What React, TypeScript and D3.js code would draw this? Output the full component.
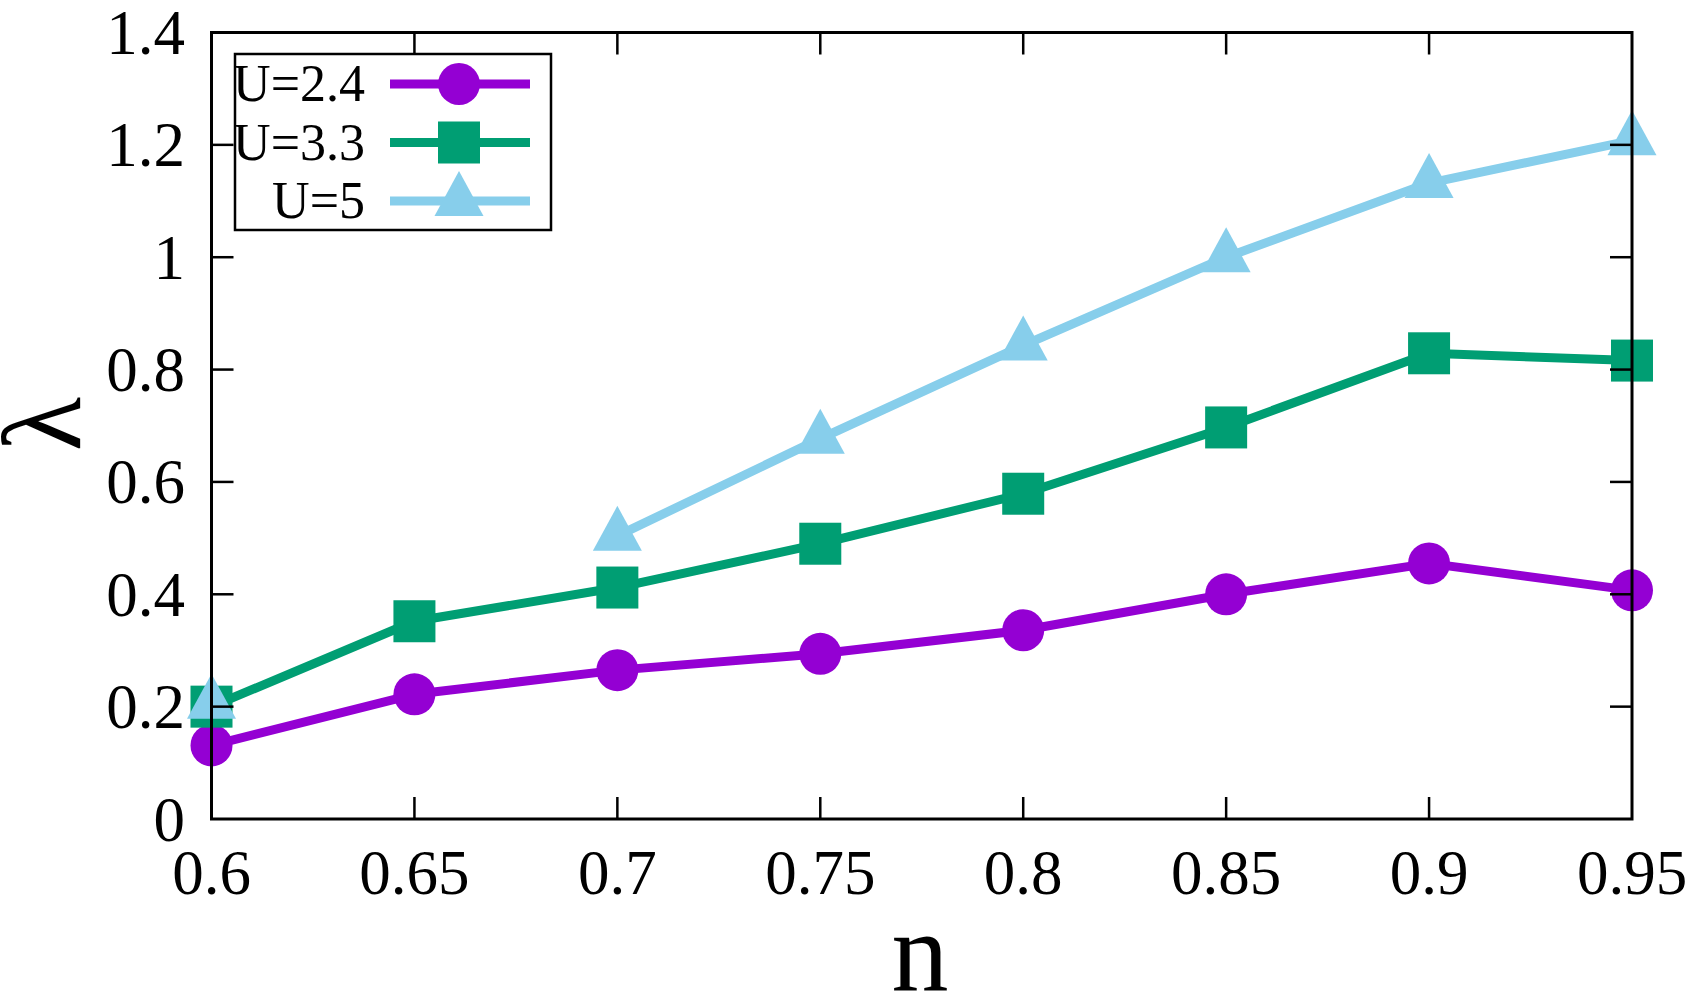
import { useEffect, useRef } from 'react';
import * as d3 from 'd3';

// filling n and fitted lambda for each U
const nValues = [0.6, 0.65, 0.7, 0.75, 0.8, 0.85, 0.9, 0.95];
const lambdaU24 = [0.131, 0.222, 0.265, 0.294, 0.336, 0.4, 0.455, 0.407];
const lambdaU33 = [0.2, 0.352, 0.412, 0.49, 0.579, 0.697, 0.829, 0.816];
const lambdaU5: (number | null)[] = [0.205, null, 0.504, 0.677, 0.843, 1.0, 1.132, 1.208];

const seriesNames = ['U=2.4', 'U=3.3', 'U=5'];
const xTicks = [0.6, 0.65, 0.7, 0.75, 0.8, 0.85, 0.9, 0.95];
const yTicks = [0, 0.2, 0.4, 0.6, 0.8, 1, 1.2, 1.4];

const WIDTH = 1700;
const HEIGHT = 1000;
const FONT = '"Liberation Serif", "Times New Roman", serif';

type Pt = { x: number; y: number | null };

export default function App() {
  const svgRef = useRef<SVGSVGElement>(null);

  useEffect(() => {
    document.body.style.margin = '0';
    if (!svgRef.current) return;
    const svg = d3.select(svgRef.current);
    svg.selectAll('*').remove();

    const x = d3.scaleLinear().domain([0.6, 0.95]).range([211.5, 1632]);
    const y = d3.scaleLinear().domain([0, 1.4]).range([819, 32.5]);

    const series = [
      { name: seriesNames[0], values: lambdaU24, color: '#9400d3', marker: 'circle' },
      { name: seriesNames[1], values: lambdaU33, color: '#009e73', marker: 'square' },
      { name: seriesNames[2], values: lambdaU5, color: '#87ceeb', marker: 'triangle' },
    ];

    // tick labels (behind the data)
    svg.append('g')
      .selectAll('text')
      .data(xTicks)
      .enter()
      .append('text')
      .attr('x', d => x(d))
      .attr('y', 894)
      .attr('text-anchor', 'middle')
      .style('font-family', FONT)
      .style('font-size', '63px')
      .text(d => String(d));

    svg.append('g')
      .selectAll('text')
      .data(yTicks)
      .enter()
      .append('text')
      .attr('x', 185)
      .attr('y', d => y(d) + 21.5)
      .attr('text-anchor', 'end')
      .style('font-family', FONT)
      .style('font-size', '63px')
      .text(d => String(d));

    // axis titles
    svg.append('text')
      .attr('x', 920)
      .attr('y', 990)
      .attr('text-anchor', 'middle')
      .style('font-family', FONT)
      .style('font-size', '114px')
      .text('n');

    svg.append('text')
      .attr('transform', 'translate(80, 424) rotate(-90)')
      .attr('text-anchor', 'middle')
      .style('font-family', FONT)
      .style('font-size', '112px')
      .text('λ');

    const drawMarker = (g: d3.Selection<SVGGElement, unknown, null, undefined>, kind: string, cx: number, cy: number, color: string) => {
      if (kind === 'circle') {
        g.append('circle').attr('cx', cx).attr('cy', cy).attr('r', 21).attr('fill', color);
      } else if (kind === 'square') {
        g.append('rect').attr('x', cx - 21).attr('y', cy - 21).attr('width', 42).attr('height', 42).attr('fill', color);
      } else {
        g.append('path')
          .attr('d', `M${cx},${cy - 30}L${cx + 24.5},${cy + 15}L${cx - 24.5},${cy + 15}Z`)
          .attr('fill', color);
      }
    };

    // data lines and points
    series.forEach(s => {
      const pts: Pt[] = nValues.map((n, i) => ({ x: n, y: s.values[i] }));
      const line = d3.line<Pt>()
        .defined(d => d.y !== null)
        .x(d => x(d.x))
        .y(d => y(d.y as number));
      const g = svg.append('g');
      g.append('path')
        .attr('d', line(pts))
        .attr('fill', 'none')
        .attr('stroke', s.color)
        .attr('stroke-width', 9)
        .attr('stroke-linejoin', 'round');
      pts.filter(p => p.y !== null).forEach(p => drawMarker(g, s.marker, x(p.x), y(p.y as number), s.color));
    });

    // border and mirrored inward ticks, drawn in front
    const frame = svg.append('g').attr('stroke', '#000').attr('fill', 'none');
    const [x0, x1] = x.range();
    const [y0, y1] = y.range();
    const tickLen = 22;
    xTicks.slice(1, -1).forEach(t => {
      frame.append('line').attr('x1', x(t)).attr('x2', x(t)).attr('y1', y0).attr('y2', y0 - tickLen).attr('stroke-width', 2.5);
      frame.append('line').attr('x1', x(t)).attr('x2', x(t)).attr('y1', y1).attr('y2', y1 + tickLen).attr('stroke-width', 2.5);
    });
    yTicks.slice(1, -1).forEach(t => {
      frame.append('line').attr('x1', x0).attr('x2', x0 + tickLen).attr('y1', y(t)).attr('y2', y(t)).attr('stroke-width', 2.5);
      frame.append('line').attr('x1', x1).attr('x2', x1 - tickLen).attr('y1', y(t)).attr('y2', y(t)).attr('stroke-width', 2.5);
    });
    frame.append('rect')
      .attr('x', x0)
      .attr('y', y1)
      .attr('width', x1 - x0)
      .attr('height', y0 - y1)
      .attr('stroke-width', 3);

    // legend
    const legend = svg.append('g');
    legend.append('rect')
      .attr('x', 235)
      .attr('y', 54)
      .attr('width', 316)
      .attr('height', 176)
      .attr('fill', 'none')
      .attr('stroke', '#000')
      .attr('stroke-width', 2.5);

    series.forEach((s, i) => {
      const cy = 84 + i * 58.5;
      const row = legend.append('g');
      row.append('text')
        .attr('x', 365)
        .attr('y', cy + 17)
        .attr('text-anchor', 'end')
        .style('font-family', FONT)
        .style('font-size', '52px')
        .text(s.name);
      row.append('line')
        .attr('x1', 390)
        .attr('x2', 530)
        .attr('y1', cy)
        .attr('y2', cy)
        .attr('stroke', s.color)
        .attr('stroke-width', 9);
      drawMarker(row, s.marker, 459, cy, s.color);
    });
  }, []);

  return <svg ref={svgRef} width={WIDTH} height={HEIGHT} style={{ display: 'block', background: '#fff' }}></svg>;
}
